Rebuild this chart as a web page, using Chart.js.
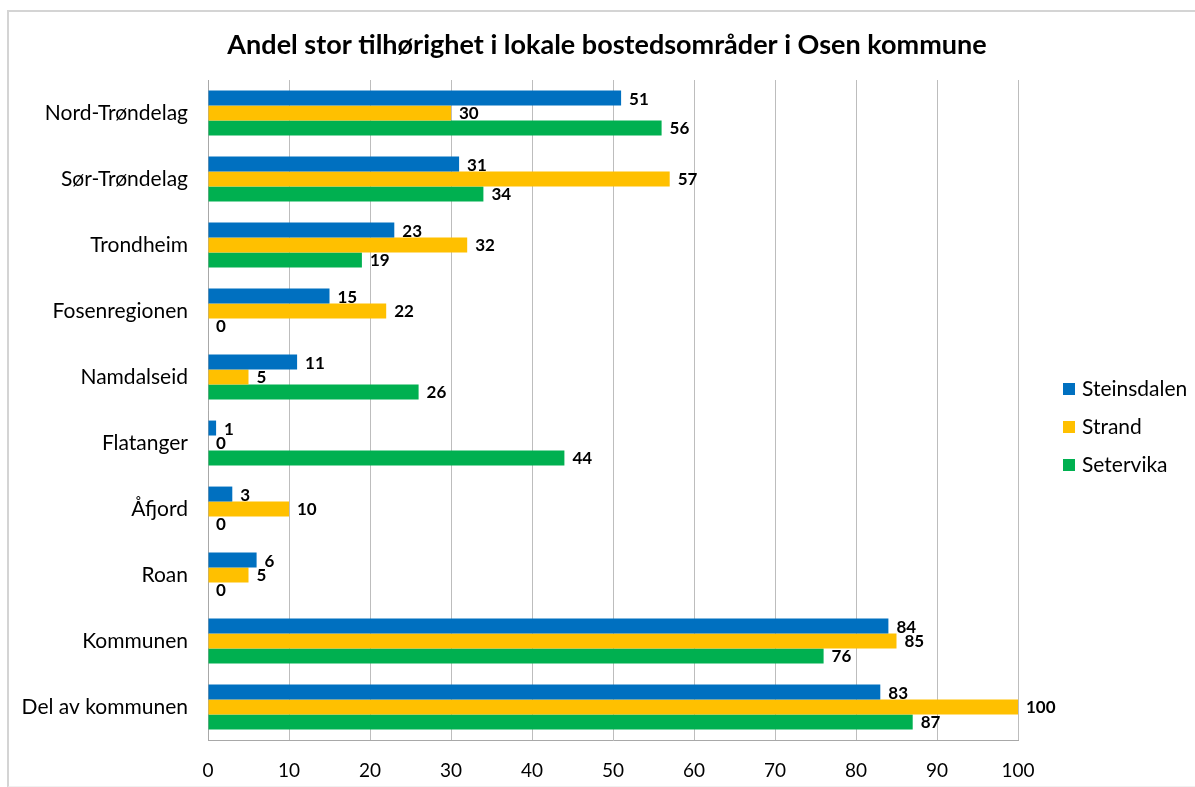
<!DOCTYPE html>
<html lang="no">
<head>
<meta charset="UTF-8" />
<title>Andel stor tilhørighet</title>
<script src="https://cdn.jsdelivr.net/npm/chart.js@4.4.0/dist/chart.umd.min.js"></script>
<style>
  body { margin: 0; background: #fff; overflow: hidden; }
  #frame { position: absolute; left: 7px; top: 10px; width: 1300px; height: 774px; border: 2px solid #d4d4d4; border-bottom-color: #f0f0f0; }
  #wrap { position: absolute; left: 0; top: 0; width: 1195px; height: 787px; }
</style>
</head>
<body>
<div id="frame"></div>
<div id="wrap"><canvas id="chart"></canvas></div>
<script>
const categories = ['Nord-Trøndelag', 'Sør-Trøndelag', 'Trondheim', 'Fosenregionen', 'Namdalseid',
  'Flatanger', 'Åfjord', 'Roan', 'Kommunen', 'Del av kommunen'];
const steinsdalen = [51, 31, 23, 15, 11, 1, 3, 6, 84, 83];
const strand = [30, 57, 32, 22, 5, 0, 10, 5, 85, 100];
const setervika = [56, 34, 19, 0, 26, 44, 0, 0, 76, 87];
const seriesNames = ['Steinsdalen', 'Strand', 'Setervika'];
const colors = ['#0070C0', '#FFC000', '#00B050'];
const titleText = 'Andel stor tilhørighet i lokale bostedsområder i Osen kommune';

const font = 'Lato, "Open Sans", sans-serif';

// value labels at bar ends
const barLabels = {
  id: 'barLabels',
  afterDatasetsDraw(chart) {
    const ctx = chart.ctx;
    ctx.save();
    ctx.font = 'bold 17px ' + font;
    ctx.fillStyle = '#000';
    ctx.textAlign = 'left';
    ctx.textBaseline = 'middle';
    chart.data.datasets.forEach((ds, i) => {
      chart.getDatasetMeta(i).data.forEach((bar, j) => {
        ctx.fillText(ds.data[j], bar.x + 8, bar.y + 1);
      });
    });
    ctx.restore();
  }
};

// title and right-hand legend, drawn by hand so the plot keeps its width
const extras = {
  id: 'extras',
  afterDraw(chart) {
    const ctx = chart.ctx;
    ctx.save();
    ctx.fillStyle = '#000';
    ctx.textBaseline = 'middle';
    ctx.textAlign = 'center';
    ctx.font = 'bold 27px ' + font;
    ctx.fillText(titleText, 607, 45);
    ctx.font = '21px ' + font;
    ctx.textAlign = 'left';
    seriesNames.forEach((name, i) => {
      const y = 389 + i * 38;
      ctx.fillStyle = colors[i];
      ctx.fillRect(1063, y - 6, 12, 12);
      ctx.fillStyle = '#000';
      ctx.fillText(name, 1082, y);
    });
    ctx.restore();
  }
};

new Chart(document.getElementById('chart'), {
  type: 'bar',
  data: {
    labels: categories,
    datasets: [
      { label: seriesNames[0], data: steinsdalen, backgroundColor: colors[0] },
      { label: seriesNames[1], data: strand, backgroundColor: colors[1] },
      { label: seriesNames[2], data: setervika, backgroundColor: colors[2] }
    ]
  },
  options: {
    indexAxis: 'y',
    responsive: true,
    maintainAspectRatio: false,
    animation: false,
    categoryPercentage: 0.68,
    barPercentage: 1,
    layout: { padding: { left: 0, right: 177, top: 80, bottom: 0 } },
    plugins: {
      legend: { display: false },
      tooltip: { enabled: false },
      title: { display: false }
    },
    scales: {
      x: {
        min: 0,
        max: 100,
        ticks: { stepSize: 10, color: '#000', font: { family: font, size: 19 }, padding: 19 },
        grid: { color: '#bdbdbd', drawTicks: false },
        border: { color: '#a8a8a8' },
        afterFit(scale) { scale.height = 47; }
      },
      y: {
        ticks: { color: '#000', font: { family: font, size: 21 }, padding: 12 },
        grid: { display: false },
        border: { color: '#a8a8a8' },
        afterFit(scale) { scale.width = 208; }
      }
    }
  },
  plugins: [barLabels, extras]
});
</script>
</body>
</html>
